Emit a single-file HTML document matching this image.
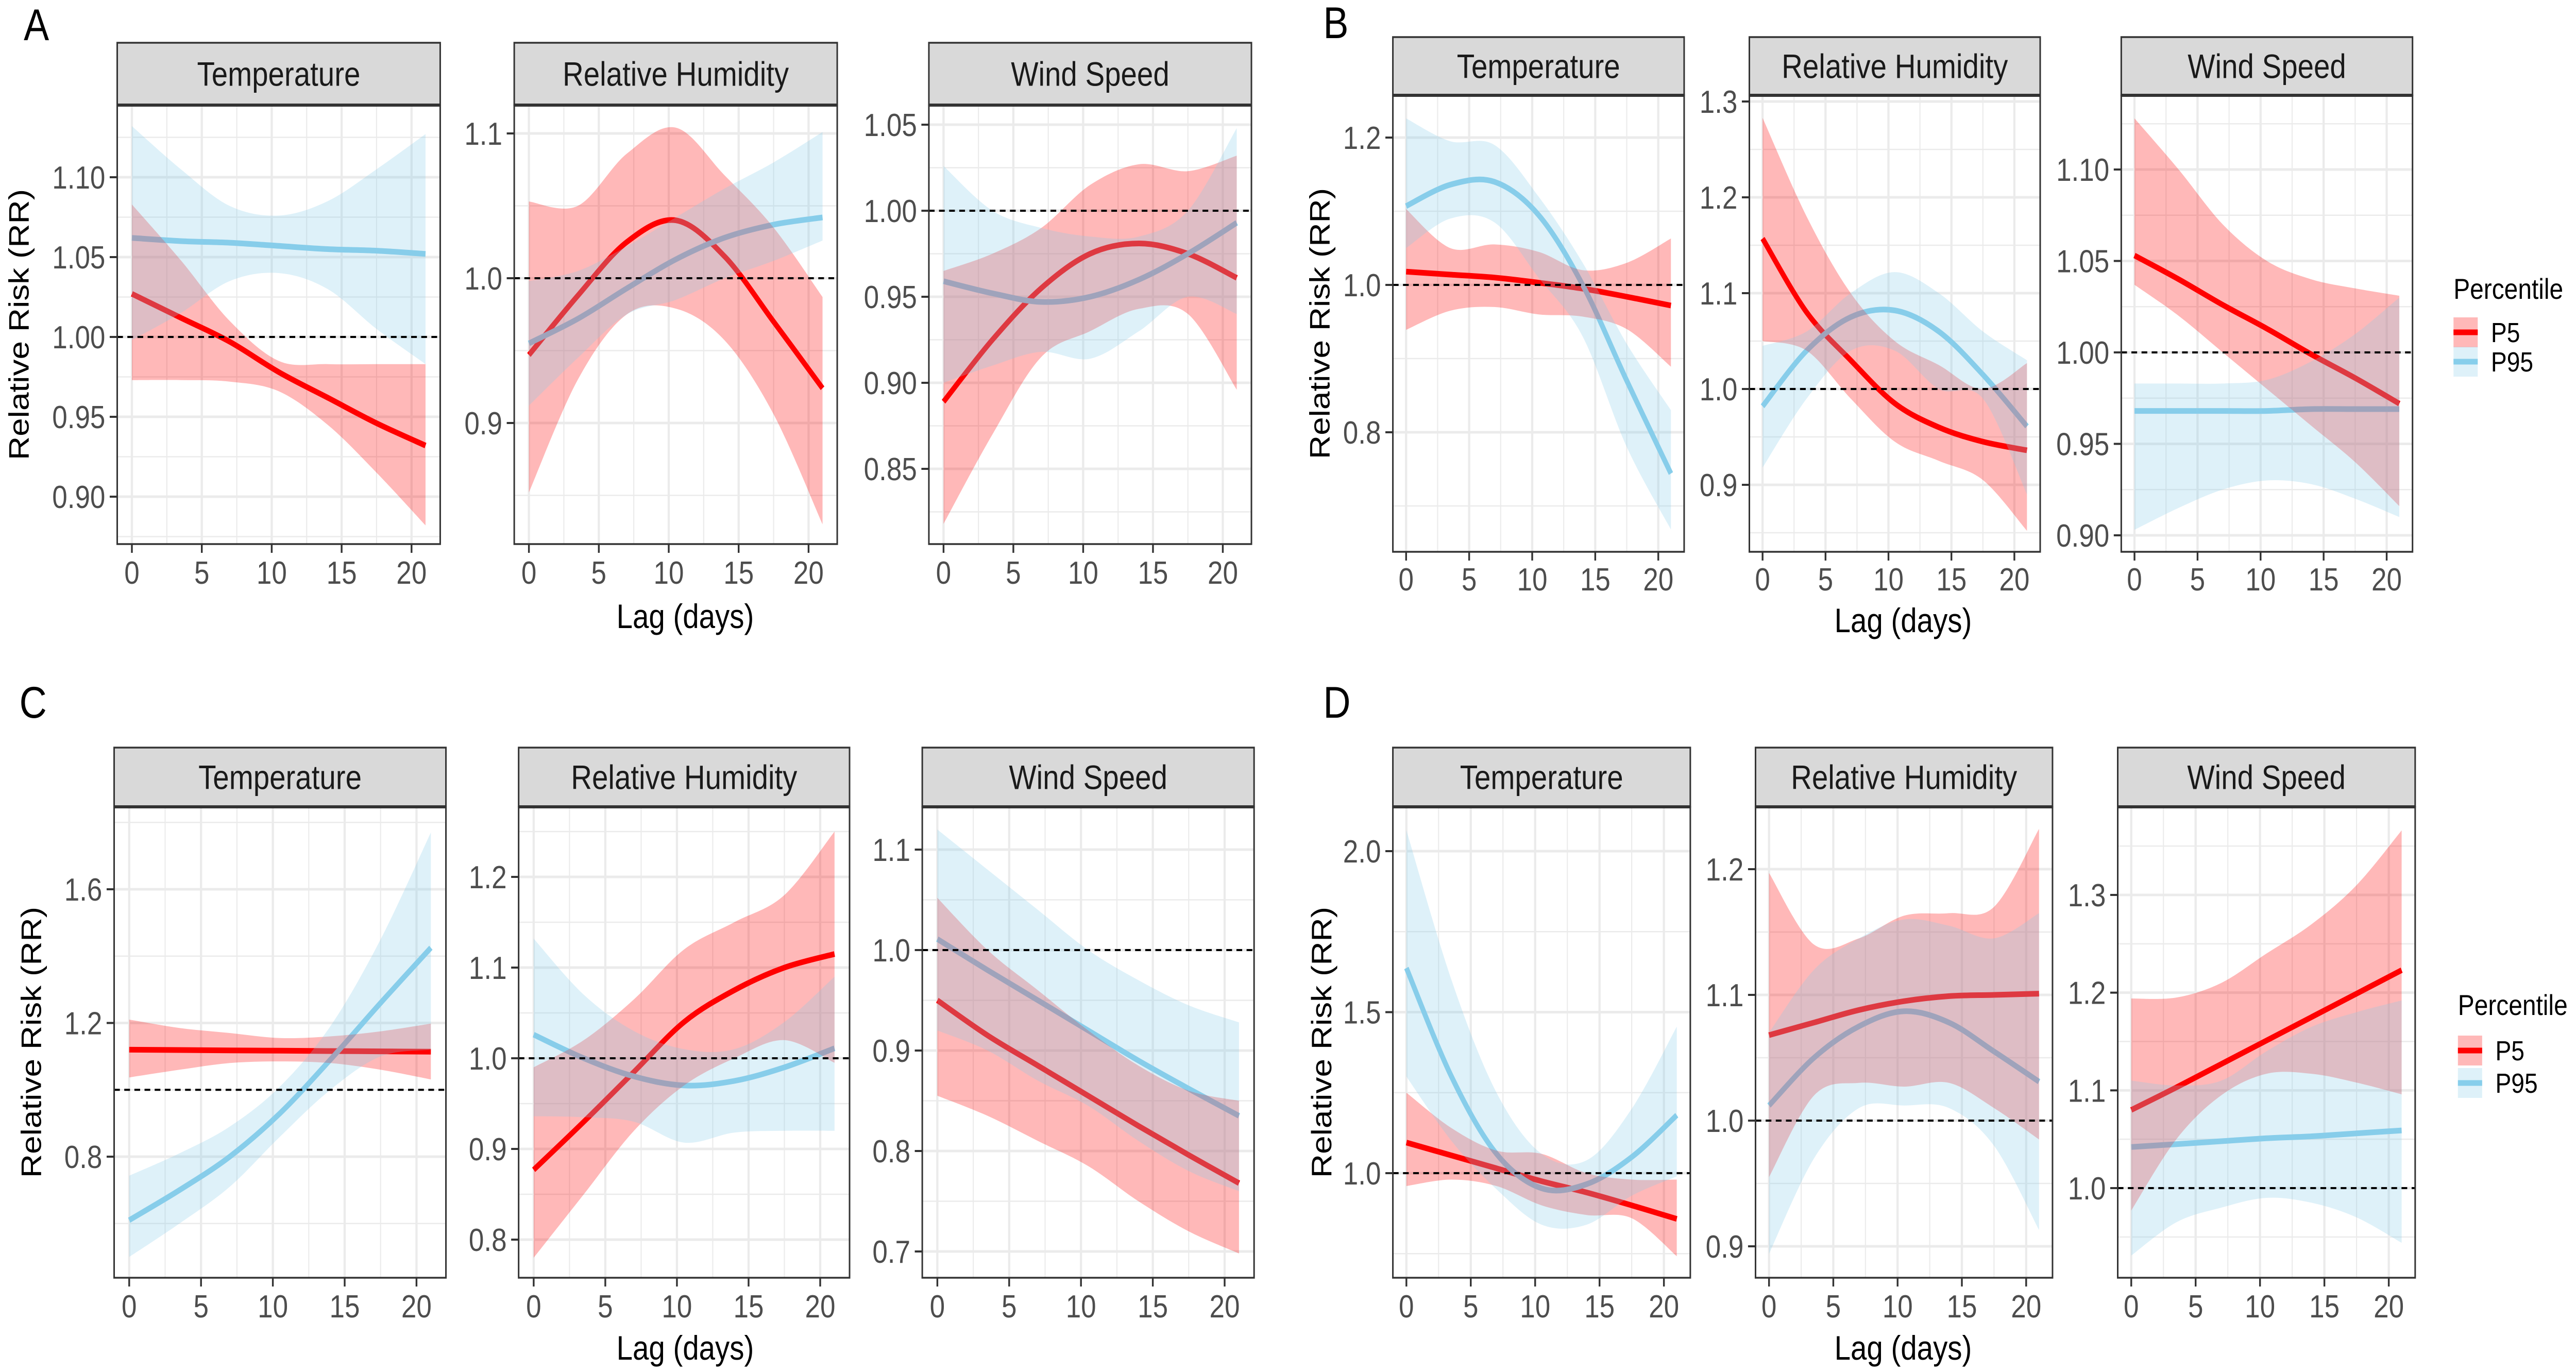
<!DOCTYPE html>
<html><head><meta charset="utf-8"><style>
html,body{margin:0;padding:0;background:#fff;width:100%;height:100%;overflow:hidden;}
svg{display:block;font-family:"Liberation Sans",Arial,sans-serif;width:100vw;height:100vh;}
</style></head>
<body>
<svg id="fig" xmlns="http://www.w3.org/2000/svg" viewBox="0 0 5846 2661" preserveAspectRatio="none">
<rect x="0" y="0" width="5846" height="2661" fill="#fff"/>
<g id="root"></g>
</svg>
<script>
// ---- data ----
const lags = [0, 3.5, 7, 10.5, 14, 17.5, 21];
// Panel A
const aTempP5 = [1.027,1.012,0.997,0.978,0.962,0.946,0.932];
const aTempP5Lo = [0.973,0.973,0.972,0.966,0.945,0.915,0.882];
const aTempP5Hi = [1.083,1.048,1.010,0.985,0.983,0.983,0.983];
const aTempP95 = [1.062,1.060,1.059,1.057,1.055,1.054,1.052];
const aTempP95Lo = [0.998,1.015,1.035,1.040,1.030,1.005,0.983];
const aTempP95Hi = [1.132,1.105,1.082,1.076,1.085,1.105,1.127];
const aRhP5 = [0.947,0.988,1.025,1.040,1.015,0.970,0.924];
const aRhP5Lo = [0.852,0.930,0.975,0.979,0.957,0.906,0.830];
const aRhP5Hi = [1.053,1.050,1.086,1.104,1.071,1.035,0.987];
const aRhP95 = [0.955,0.972,0.993,1.013,1.028,1.037,1.042];
const aRhP95Lo = [0.912,0.945,0.975,0.985,1.000,1.012,1.026];
const aRhP95Hi = [0.998,1.005,1.022,1.042,1.062,1.080,1.101];
const aWsP5 = [0.889,0.925,0.955,0.975,0.981,0.975,0.961];
const aWsP5Lo = [0.818,0.870,0.915,0.930,0.943,0.940,0.896];
const aWsP5Hi = [0.965,0.975,0.990,1.015,1.027,1.023,1.032];
const aWsP95 = [0.959,0.952,0.947,0.950,0.960,0.975,0.993];
const aWsP95Lo = [0.900,0.910,0.918,0.914,0.930,0.950,0.940];
const aWsP95Hi = [1.026,1.000,0.990,0.985,0.985,1.000,1.048];
// Panel B
const bTempP5 = [1.018,1.014,1.010,1.003,0.995,0.984,0.972];
const bTempP5Lo = [0.939,0.965,0.970,0.960,0.957,0.940,0.889];
const bTempP5Hi = [1.103,1.050,1.055,1.045,1.020,1.030,1.063];
const bTempP95 = [1.107,1.136,1.140,1.095,1.000,0.870,0.744];
const bTempP95Lo = [1.050,1.090,1.085,1.010,0.930,0.780,0.668];
const bTempP95Hi = [1.226,1.195,1.190,1.120,1.030,0.920,0.830];
const bRhP5 = [1.157,1.080,1.030,0.985,0.960,0.945,0.936];
const bRhP5Lo = [1.050,1.040,0.990,0.945,0.925,0.905,0.852];
const bRhP5Hi = [1.283,1.180,1.100,1.050,1.025,1.000,1.027];
const bRhP95 = [0.982,1.040,1.075,1.082,1.060,1.015,0.961];
const bRhP95Lo = [0.918,0.990,1.040,1.040,1.000,0.990,0.890];
const bRhP95Hi = [1.045,1.060,1.100,1.122,1.100,1.060,1.030];
const bWsP5 = [1.053,1.040,1.026,1.013,0.999,0.986,0.972];
const bWsP5Lo = [1.037,1.020,1.000,0.980,0.960,0.940,0.916];
const bWsP5Hi = [1.128,1.100,1.070,1.050,1.040,1.035,1.031];
const bWsP95 = [0.968,0.968,0.968,0.968,0.969,0.969,0.969];
const bWsP95Lo = [0.903,0.915,0.925,0.930,0.928,0.920,0.910];
const bWsP95Hi = [0.983,0.983,0.983,0.985,0.995,1.010,1.030];
// Panel C
const cTempP5 = [1.120,1.119,1.118,1.117,1.116,1.115,1.114];
const cTempP5Lo = [1.037,1.060,1.080,1.085,1.080,1.060,1.031];
const cTempP5Hi = [1.210,1.185,1.170,1.155,1.160,1.175,1.198];
const cTempP95 = [0.610,0.700,0.800,0.930,1.090,1.260,1.425];
const cTempP95Lo = [0.500,0.600,0.710,0.860,1.000,1.100,1.120];
const cTempP95Hi = [0.743,0.810,0.890,1.010,1.190,1.450,1.770];
const cRhP5 = [0.877,0.930,0.985,1.040,1.075,1.100,1.115];
const cRhP5Lo = [0.780,0.850,0.920,0.970,1.000,1.020,0.995];
const cRhP5Hi = [0.990,1.020,1.065,1.120,1.150,1.180,1.250];
const cRhP95 = [1.026,1.000,0.980,0.970,0.975,0.990,1.011];
const cRhP95Lo = [0.936,0.935,0.930,0.907,0.918,0.920,0.920];
const cRhP95Hi = [1.132,1.070,1.030,1.010,1.010,1.040,1.090];
const cWsP5 = [0.950,0.915,0.885,0.855,0.825,0.796,0.768];
const cWsP5Lo = [0.855,0.835,0.810,0.785,0.750,0.720,0.698];
const cWsP5Hi = [1.052,1.000,0.960,0.920,0.885,0.860,0.850];
const cWsP95 = [1.011,0.980,0.950,0.920,0.890,0.862,0.835];
const cWsP95Lo = [0.920,0.900,0.870,0.845,0.810,0.780,0.760];
const cWsP95Hi = [1.120,1.080,1.040,1.000,0.970,0.945,0.928];
// Panel D
const dTempP5 = [1.095,1.055,1.015,0.975,0.940,0.900,0.858];
const dTempP5Lo = [0.960,0.980,0.960,0.900,0.870,0.860,0.742];
const dTempP5Hi = [1.250,1.140,1.070,1.060,1.000,0.980,0.980];
const dTempP95 = [1.637,1.300,1.060,0.953,0.966,1.050,1.180];
const dTempP95Lo = [1.300,1.100,0.950,0.840,0.840,0.930,0.990];
const dTempP95Hi = [2.065,1.600,1.250,1.060,1.040,1.200,1.455];
const dRhP5 = [1.068,1.078,1.088,1.095,1.099,1.100,1.101];
const dRhP5Lo = [0.955,1.020,1.030,1.027,1.030,1.010,0.985];
const dRhP5Hi = [1.197,1.140,1.145,1.163,1.165,1.170,1.232];
const dRhP95 = [1.012,1.050,1.075,1.087,1.078,1.055,1.031];
const dRhP95Lo = [0.894,0.970,1.010,1.012,1.010,0.980,0.913];
const dRhP95Hi = [1.070,1.120,1.145,1.160,1.155,1.145,1.165];
const dWsP5 = [1.080,1.103,1.127,1.151,1.175,1.199,1.223];
const dWsP5Lo = [0.977,1.050,1.095,1.117,1.117,1.108,1.096];
const dWsP5Hi = [1.194,1.195,1.210,1.240,1.270,1.310,1.366];
const dWsP95 = [1.042,1.045,1.048,1.051,1.053,1.056,1.059];
const dWsP95Lo = [0.931,0.965,0.980,0.990,0.985,0.970,0.944];
const dWsP95Hi = [1.110,1.105,1.110,1.140,1.165,1.180,1.192];
// tick labels
const xTicks = [0, 5, 10, 15, 20];
const aTempTicks = ["0.90","0.95","1.00","1.05","1.10"];
const aRhTicks = ["0.9","1.0","1.1"];
const aWsTicks = ["0.85","0.90","0.95","1.00","1.05"];
const bTempTicks = ["0.8","1.0","1.2"];
const bRhTicks = ["0.9","1.0","1.1","1.2","1.3"];
const bWsTicks = ["0.90","0.95","1.00","1.05","1.10"];
const cTempTicks = ["0.8","1.2","1.6"];
const cRhTicks = ["0.8","0.9","1.0","1.1","1.2"];
const cWsTicks = ["0.7","0.8","0.9","1.0","1.1"];
const dTempTicks = ["1.0","1.5","2.0"];
const dRhTicks = ["0.9","1.0","1.1","1.2"];
const dWsTicks = ["1.0","1.1","1.2","1.3"];
const facetNames = ["Temperature","Relative Humidity","Wind Speed"];
const legendLabels = ["P5","P95"];

// ---- layout ----
const NS = "http://www.w3.org/2000/svg";
const root = document.getElementById("root");
function mk(tag, attrs, parent){
  const e = document.createElementNS(NS, tag);
  for (const k in attrs) e.setAttribute(k, attrs[k]);
  (parent||root).appendChild(e);
  return e;
}
const RED = "#FF0000", BLUE = "#87CEEB";

const panels = [
  {id:"a", letter:"A", lx:54, ly:78, stripTop:83, top:204, bottom:1056, tickY:1111, lagX:1555, lagY:1196, ytX:42,
   facets:[
    {L:266,R:999, ticks:aTempTicks, va:1.10, pa:344, vb:1.00, pb:654, d:[aTempP5,aTempP5Lo,aTempP5Hi,aTempP95,aTempP95Lo,aTempP95Hi]},
    {L:1167,R:1900, ticks:aRhTicks, va:1.1, pa:259, vb:1.0, pb:540, d:[aRhP5,aRhP5Lo,aRhP5Hi,aRhP95,aRhP95Lo,aRhP95Hi]},
    {L:2108,R:2840, ticks:aWsTicks, va:1.05, pa:242, vb:1.00, pb:409, d:[aWsP5,aWsP5Lo,aWsP5Hi,aWsP95,aWsP95Lo,aWsP95Hi]}]},
  {id:"b", letter:"B", lx:3003, ly:74, stripTop:72, top:185, bottom:1071, tickY:1124, lagX:4319, lagY:1204, ytX:2994,
   legend:{x:5568, ty:560, k1:645, k2:702},
   facets:[
    {L:3161,R:3822, ticks:bTempTicks, va:1.2, pa:267, vb:1.0, pb:553, d:[bTempP5,bTempP5Lo,bTempP5Hi,bTempP95,bTempP95Lo,bTempP95Hi]},
    {L:3970,R:4630, ticks:bRhTicks, va:1.3, pa:197, vb:1.0, pb:755, d:[bRhP5,bRhP5Lo,bRhP5Hi,bRhP95,bRhP95Lo,bRhP95Hi]},
    {L:4814,R:5475, ticks:bWsTicks, va:1.10, pa:329, vb:1.00, pb:684, d:[bWsP5,bWsP5Lo,bWsP5Hi,bWsP95,bWsP95Lo,bWsP95Hi]}]},
  {id:"c", letter:"C", lx:44, ly:1393, stripTop:1451, top:1566, bottom:2480, tickY:2535, lagX:1555, lagY:2616, ytX:70,
   facets:[
    {L:259,R:1012, ticks:cTempTicks, va:1.6, pa:1726, vb:0.8, pb:2245, d:[cTempP5,cTempP5Lo,cTempP5Hi,cTempP95,cTempP95Lo,cTempP95Hi]},
    {L:1177,R:1928, ticks:cRhTicks, va:1.2, pa:1702, vb:1.0, pb:2054, d:[cRhP5,cRhP5Lo,cRhP5Hi,cRhP95,cRhP95Lo,cRhP95Hi]},
    {L:2093,R:2846, ticks:cWsTicks, va:1.1, pa:1649, vb:1.0, pb:1844, d:[cWsP5,cWsP5Lo,cWsP5Hi,cWsP95,cWsP95Lo,cWsP95Hi]}]},
  {id:"d", letter:"D", lx:3003, ly:1393, stripTop:1451, top:1566, bottom:2480, tickY:2535, lagX:4319, lagY:2616, ytX:2998,
   legend:{x:5578, ty:1950, k1:2039, k2:2102},
   facets:[
    {L:3161,R:3836, ticks:dTempTicks, va:2.0, pa:1652, vb:1.0, pb:2277, d:[dTempP5,dTempP5Lo,dTempP5Hi,dTempP95,dTempP95Lo,dTempP95Hi]},
    {L:3984,R:4658, ticks:dRhTicks, va:1.2, pa:1687, vb:1.0, pb:2175, d:[dRhP5,dRhP5Lo,dRhP5Hi,dRhP95,dRhP95Lo,dRhP95Hi]},
    {L:4806,R:5481, ticks:dWsTicks, va:1.3, pa:1737, vb:1.0, pb:2306, d:[dWsP5,dWsP5Lo,dWsP5Hi,dWsP95,dWsP95Lo,dWsP95Hi]}]}
];

function catmull(pts){
  let d = "M" + pts[0][0].toFixed(1) + "," + pts[0][1].toFixed(1);
  for (let i=0;i<pts.length-1;i++){
    const p0 = pts[i-1]||pts[i], p1=pts[i], p2=pts[i+1], p3=pts[i+2]||pts[i+1];
    const c1=[p1[0]+(p2[0]-p0[0])/6, p1[1]+(p2[1]-p0[1])/6];
    const c2=[p2[0]-(p3[0]-p1[0])/6, p2[1]-(p3[1]-p1[1])/6];
    d += "C"+c1[0].toFixed(1)+","+c1[1].toFixed(1)+" "+c2[0].toFixed(1)+","+c2[1].toFixed(1)+" "+p2[0].toFixed(1)+","+p2[1].toFixed(1);
  }
  return d;
}
function catmullCont(pts){ return catmull(pts).replace(/^M/,"L"); }

panels.forEach(function(P){
  const g = mk("g", {});
  
  
  const lt = mk("text", {x:P.lx, y:P.ly, "font-size":86, fill:"#000"}, g);
  
  
  lt.textContent = P.letter;

  P.facets.forEach(function(F, fi){
    const fg = mk("g", {}, g);
    
    
    const W = F.R - F.L;
    const xs = function(l){ return F.L + (l + 1.05) / 23.1 * W; };
    const ys = function(v){ return F.pa + (v - F.va) * (F.pb - F.pa) / (F.vb - F.va); };
    mk("rect", {x:F.L, y:P.top, width:W, height:P.bottom-P.top, fill:"#fff"}, fg);
    const tv = F.ticks.map(Number);
    const step = tv[1]-tv[0];
    const minY = [];
    for (let k=-1;k<tv.length;k++) minY.push(tv[0]+step*(k+0.5));
    minY.forEach(function(v){ const y=ys(v); if(y>P.top&&y<P.bottom) mk("line",{x1:F.L,x2:F.R,y1:y,y2:y,stroke:"#EBEBEB","stroke-width":2.5},fg); });
    [2.5,7.5,12.5,17.5].forEach(function(l){ mk("line",{x1:xs(l),x2:xs(l),y1:P.top,y2:P.bottom,stroke:"#EBEBEB","stroke-width":2.5},fg); });
    tv.forEach(function(v){ const y=ys(v); if(y>P.top&&y<P.bottom) mk("line",{x1:F.L,x2:F.R,y1:y,y2:y,stroke:"#EBEBEB","stroke-width":5},fg); });
    xTicks.forEach(function(l){ mk("line",{x1:xs(l),x2:xs(l),y1:P.top,y2:P.bottom,stroke:"#EBEBEB","stroke-width":5},fg); });
    const cid = "clip-" + P.id + fi;
    const cp = mk("clipPath", {id:cid}, fg);
    mk("rect", {x:F.L, y:P.top, width:W, height:P.bottom-P.top}, cp);
    const dg = mk("g", {"clip-path":"url(#"+cid+")"}, fg);
    const series = [[F.d[0],RED,"p5"],[F.d[3],BLUE,"p95"]];
    series.forEach(function(s){
      const pts = lags.map(function(l,i){ return [xs(l), ys(s[0][i])]; });
      const ln = mk("path", {d:catmull(pts), fill:"none", stroke:s[1], "stroke-width":11, "stroke-linecap":"butt"}, dg);
      
      
    });
    [[F.d[1],F.d[2],RED,"p5"],[F.d[4],F.d[5],BLUE,"p95"]].forEach(function(s){
      const up = lags.map(function(l,i){ return [xs(l), ys(s[1][i])]; });
      const lo = lags.map(function(l,i){ return [xs(l), ys(s[0][i])]; }).reverse();
      const rb = mk("path", {d:catmull(up)+catmullCont(lo)+"Z", fill:s[2], "fill-opacity":0.28, stroke:"none"}, dg);
      
      
    });
    const ry = ys(1.0);
    const rl = mk("line", {x1:F.L, x2:F.R, y1:ry, y2:ry, stroke:"#000", "stroke-width":4, "stroke-dasharray":"13,10"}, dg);
    
    
    mk("rect", {x:F.L, y:P.top, width:W, height:P.bottom-P.top, fill:"none", stroke:"#333", "stroke-width":3.5}, fg);
    const st = mk("rect", {x:F.L, y:P.stripTop, width:W, height:P.top-P.stripTop, fill:"#D9D9D9", stroke:"#333", "stroke-width":3.5}, fg);
    
    
    mk("line", {x1:F.L, x2:F.R, y1:P.top, y2:P.top, stroke:"#333", "stroke-width":6}, fg);
    const stt = mk("text", {x:F.L+W/2, y:(P.stripTop+P.top)/2+23, "font-size":66, "text-anchor":"middle", fill:"#1A1A1A"}, fg);
    
    
    stt.textContent = facetNames[fi];
    F.ticks.forEach(function(t){
      const y = ys(Number(t));
      mk("line", {x1:F.L-17, x2:F.L, y1:y, y2:y, stroke:"#333", "stroke-width":4}, fg);
      const tx = mk("text", {x:F.L-27, y:y+22, "font-size":62, "text-anchor":"end", fill:"#4D4D4D"}, fg);
      
      
      tx.textContent = t;
    });
    xTicks.forEach(function(l){
      const x = xs(l);
      mk("line", {x1:x, x2:x, y1:P.bottom, y2:P.bottom+17, stroke:"#333", "stroke-width":4}, fg);
      const tx = mk("text", {x:x, y:P.tickY+22, "font-size":62, "text-anchor":"middle", fill:"#4D4D4D"}, fg);
      
      
      tx.textContent = String(l);
    });
  });
  const xt = mk("text", {x:P.lagX, y:P.lagY+23, "font-size":66, "text-anchor":"middle", fill:"#000"}, g);
  
  
  xt.textContent = "Lag (days)";
  const cy = (P.top+P.bottom)/2;
  const yt = mk("text", {x:P.ytX, y:cy, "font-size":64, "text-anchor":"middle", fill:"#000", transform:"rotate(-90 "+P.ytX+" "+cy+") translate(0 23)"}, g);
  
  
  yt.textContent = "Relative Risk (RR)";
  if (P.legend){
    const L = P.legend;
    const lg = mk("g", {}, g);
    
    
    const tt = mk("text", {x:L.x, y:L.ty+20, "font-size":56, fill:"#000"}, lg);
    
    
    tt.textContent = "Percentile";
    [[L.k1,RED,legendLabels[0]],[L.k2,BLUE,legendLabels[1]]].forEach(function(k){
      const eg = mk("g", {}, lg);
      
      
      mk("rect", {x:L.x, y:k[0]-29, width:55, height:58, fill:k[1], "fill-opacity":0.28}, eg);
      mk("line", {x1:L.x, x2:L.x+55, y1:k[0], y2:k[0], stroke:k[1], "stroke-width":11}, eg);
      const lt2 = mk("text", {x:L.x+85, y:k[0]+19, "font-size":54, fill:"#000"}, eg);
      lt2.textContent = k[2];
    });
  }
});
</script>
</body></html>
